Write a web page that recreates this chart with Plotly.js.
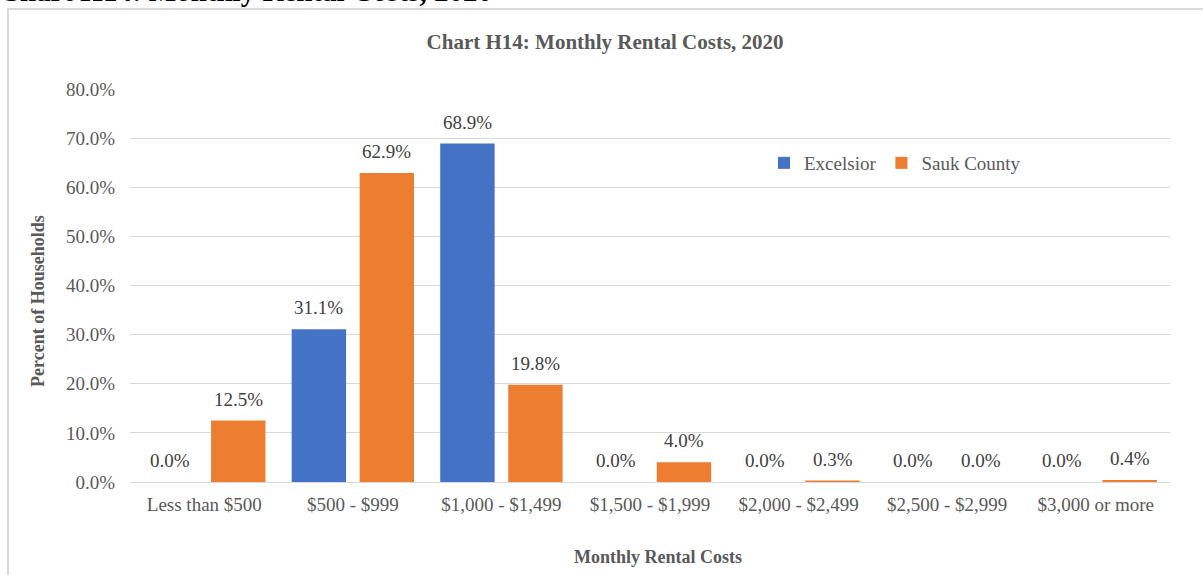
<!DOCTYPE html>
<html>
<head>
<meta charset="utf-8">
<script src="https://cdn.plot.ly/plotly-3.0.1.min.js"></script>
<style>
  html, body { margin: 0; padding: 0; background: #fff; overflow: hidden; }
  #wrap { position: relative; width: 1203px; height: 575px; overflow: hidden; }
  #chart { position: absolute; left: 0; top: 0; width: 1203px; height: 575px; }
  #frame { position: absolute; left: 7px; top: 8px; width: 1210px; height: 600px;
           border: 2px solid #d9d9d9; box-sizing: border-box; pointer-events: none; }
  #doctitle { position: absolute; left: -1px; top: -23px; font-family: "Liberation Serif", "Times New Roman", serif;
              font-weight: bold; font-size: 29px; line-height: 29px; color: #000; white-space: nowrap; }
</style>
</head>
<body>
<div id="wrap">
  <div id="doctitle">Chart H14: Monthly Rental Costs, 2020</div>
  <div id="chart"></div>
  <div id="frame"></div>
</div>
<script>
const categories = ["Less than $500", "$500 - $999", "$1,000 - $1,499", "$1,500 - $1,999",
                    "$2,000 - $2,499", "$2,500 - $2,999", "$3,000 or more"];
const excelsior = [0.0, 31.1, 68.9, 0.0, 0.0, 0.0, 0.0];
const saukCounty = [12.5, 62.9, 19.8, 4.0, 0.3, 0.0, 0.4];
const yTickVals = [0, 10, 20, 30, 40, 50, 60, 70, 80];
const yTickText = ["0.0%", "10.0%", "20.0%", "30.0%", "40.0%", "50.0%", "60.0%", "70.0%", "80.0%"];

const FONT = "Liberation Serif, Times New Roman, serif";
const BLUE = "#4472C4", ORANGE = "#ED7D31";
const GRAY = "#595959";

const traces = [
  { type: "bar", name: "Excelsior", x: categories, y: excelsior, marker: { color: BLUE }, hoverinfo: "y" },
  { type: "bar", name: "Sauk County", x: categories, y: saukCounty, marker: { color: ORANGE }, hoverinfo: "y" }
];

const annotations = [];
[[excelsior, -34], [saukCounty, 34]].forEach(([vals, shift]) => {
  vals.forEach((v, i) => {
    annotations.push({
      x: categories[i], y: v, xref: "x", yref: "y", text: v.toFixed(1) + "%",
      showarrow: false, xshift: shift, yshift: 9, yanchor: "bottom",
      font: { family: FONT, size: 19, color: "#404040" }
    });
  });
});
annotations.push({
  xref: "paper", yref: "paper", x: 0, y: (482 - 301) / 393, xshift: -92, xanchor: "center", yanchor: "middle",
  textangle: -90, showarrow: false, text: "<b>Percent of Households</b>",
  font: { family: FONT, size: 18, color: GRAY }
});
annotations.push({
  xref: "paper", yref: "paper", x: 0.5, y: 0, xshift: 8, yshift: -75, xanchor: "center", yanchor: "middle",
  showarrow: false, text: "<b>Monthly Rental Costs</b>",
  font: { family: FONT, size: 18, color: GRAY }
});

const layout = {
  width: 1203, height: 575,
  margin: { l: 130, r: 33, t: 89, b: 93 },
  paper_bgcolor: "rgba(0,0,0,0)", plot_bgcolor: "rgba(0,0,0,0)",
  font: { family: FONT, size: 19, color: GRAY },
  title: { text: "<b>Chart H14: Monthly Rental Costs, 2020</b>", x: 0.503, xanchor: "center",
           y: 1 - 42 / 575, yanchor: "middle", font: { family: FONT, size: 21, color: GRAY } },
  barmode: "group", bargap: 0.085, bargroupgap: 0.2,
  xaxis: { type: "category", showgrid: false, showline: false, zeroline: false, ticks: "",
           ticklabelstandoff: 9,
           tickfont: { family: FONT, size: 19, color: GRAY } },
  yaxis: { range: [0, 80], tickvals: yTickVals, ticktext: yTickText, showgrid: true, gridcolor: "#d9d9d9",
           gridwidth: 1, zeroline: true, zerolinecolor: "#d9d9d9", zerolinewidth: 1, showline: false, ticks: "",
           ticklabelstandoff: 14,
           tickfont: { family: FONT, size: 19, color: GRAY } },
  legend: { orientation: "h", x: 0.6096, xanchor: "left", y: (482 - 163) / 393, yanchor: "middle",
            font: { family: FONT, size: 19, color: GRAY }, bgcolor: "rgba(0,0,0,0)", itemwidth: 30 },
  annotations: annotations,
  showlegend: true
};

Plotly.newPlot("chart", traces, layout, { displayModeBar: false, staticPlot: true });
</script>
</body>
</html>
